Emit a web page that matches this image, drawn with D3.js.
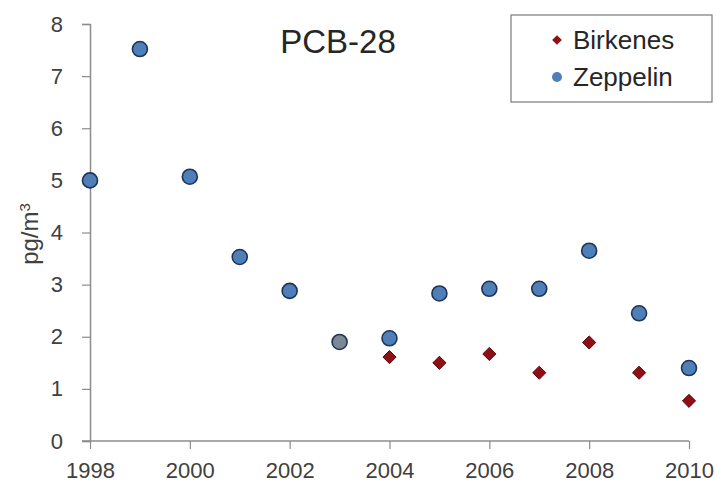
<!DOCTYPE html>
<html>
<head>
<meta charset="utf-8">
<script src="https://cdn.jsdelivr.net/npm/d3@7"></script>
<style>
  body { margin: 0; background: #fff; }
  svg { display: block; font-family: "Liberation Sans", Arial, sans-serif; }
</style>
</head>
<body>
<svg id="chart"></svg>
<script>
// data
const years = [1998, 1999, 2000, 2001, 2002, 2003, 2004, 2005, 2006, 2007, 2008, 2009, 2010];
const zeppelin = [5.0, 7.52, 5.07, 3.53, 2.88, 1.90, 1.97, 2.83, 2.92, 2.92, 3.65, 2.45, 1.40];
const birkenesYears = [2004, 2005, 2006, 2007, 2008, 2009, 2010];
const birkenes = [1.61, 1.50, 1.67, 1.31, 1.89, 1.31, 0.77];
const xTicks = [1998, 2000, 2002, 2004, 2006, 2008, 2010];
const yTicks = [0, 1, 2, 3, 4, 5, 6, 7, 8];

const width = 717, height = 485;
const svg = d3.select("#chart")
  .attr("width", width)
  .attr("height", height);

const x = d3.scaleLinear().domain([1998, 2010]).range([90, 689]);
const y = d3.scaleLinear().domain([0, 8]).range([441, 24]);

const axisColor = "#8c8c8c";
const textColor = "#404040";

// y axis
const yAxis = svg.append("g")
  .attr("transform", "translate(90,0)")
  .call(d3.axisLeft(y).tickValues(yTicks).tickSize(8).tickPadding(19).tickFormat(d3.format("d")));
yAxis.select(".domain").attr("stroke", axisColor).attr("stroke-width", 1.5);
yAxis.selectAll(".tick line").attr("stroke", axisColor).attr("stroke-width", 1.2);
yAxis.selectAll(".tick text").attr("fill", textColor).style("font-size", "22px");

// x axis
const xAxis = svg.append("g")
  .attr("transform", "translate(0,441)")
  .call(d3.axisBottom(x).tickValues(xTicks).tickSize(8).tickPadding(13).tickFormat(d3.format("d")));
xAxis.select(".domain").attr("stroke", axisColor).attr("stroke-width", 1.5)
  .attr("d", "M82,0H689");
xAxis.selectAll(".tick line").attr("stroke", axisColor).attr("stroke-width", 1.2);
xAxis.selectAll(".tick text").attr("fill", textColor).style("font-size", "22px");

// y label
svg.append("text")
  .attr("transform", "translate(38,234) rotate(-90)")
  .attr("text-anchor", "middle")
  .attr("fill", textColor)
  .style("font-size", "24px")
  .html('pg/m<tspan baseline-shift="super" font-size="15px">3</tspan>');

// title
svg.append("text")
  .attr("x", 338)
  .attr("y", 53)
  .attr("text-anchor", "middle")
  .attr("fill", "#262626")
  .style("font-size", "33px")
  .text("PCB-28");

// series
const zData = years.map((yr, i) => ({ year: yr, value: zeppelin[i] }));
const bData = birkenesYears.map((yr, i) => ({ year: yr, value: birkenes[i] }));

svg.append("g").selectAll("circle")
  .data(zData)
  .join("circle")
  .attr("cx", d => x(d.year))
  .attr("cy", d => y(d.value))
  .attr("r", 7.5)
  .attr("fill", d => d.year === 2003 ? "#7d8896" : "#4f7fb8")
  .attr("stroke", "#1f3556")
  .attr("stroke-width", 1.6);

const diamond = d3.symbol().type(d3.symbolDiamond2).size(110);
svg.append("g").selectAll("path")
  .data(bData)
  .join("path")
  .attr("transform", d => `translate(${x(d.year)},${y(d.value)})`)
  .attr("d", diamond)
  .attr("fill", "#8e0f14")
  .attr("stroke", "#5a0a0c")
  .attr("stroke-width", 1);

// legend
const legend = svg.append("g");
legend.append("rect")
  .attr("x", 511).attr("y", 15)
  .attr("width", 201).attr("height", 87)
  .attr("fill", "#fff")
  .attr("stroke", "#7a7a7a")
  .attr("stroke-width", 1.2);

const legendItems = [
  { name: "Birkenes", ty: 40, kind: "diamond" },
  { name: "Zeppelin", ty: 77, kind: "circle" }
];
legendItems.forEach(it => {
  if (it.kind === "diamond") {
    legend.append("path")
      .attr("transform", `translate(557,${it.ty})`)
      .attr("d", d3.symbol().type(d3.symbolDiamond2).size(60))
      .attr("fill", "#8e0f14");
  } else {
    legend.append("circle")
      .attr("cx", 557).attr("cy", it.ty).attr("r", 5)
      .attr("fill", "#4f7fb8");
  }
  legend.append("text")
    .attr("x", 573).attr("y", it.ty)
    .attr("dy", "0.36em")
    .attr("fill", "#262626")
    .style("font-size", "26px")
    .text(it.name);
});
</script>
</body>
</html>
